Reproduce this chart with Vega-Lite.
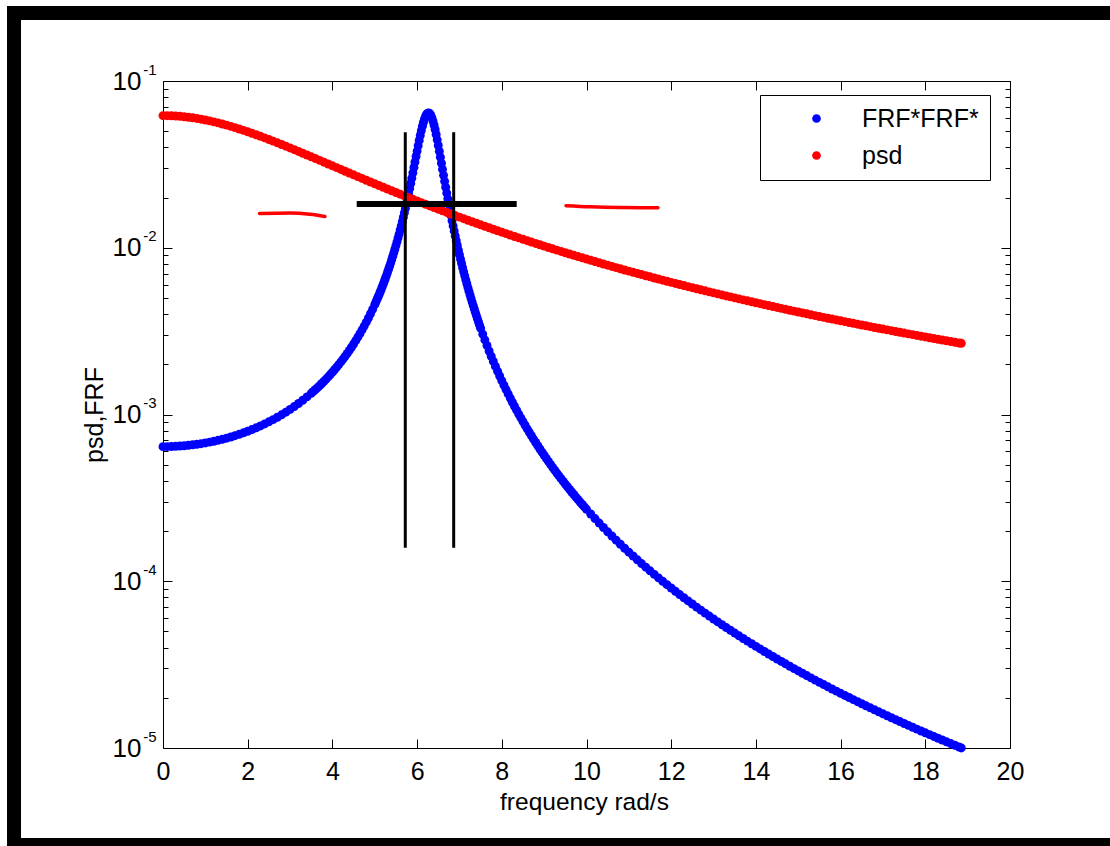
{
"$schema": "https://vega.github.io/schema/vega-lite/v6.json",
"width": 847,
"height": 667,
"autosize": {"type": "none"},
"padding": {"left": 163, "top": 81, "right": 100, "bottom": 98},
"background": "white",
"datasets": {
"frf": [
{"w":0,"v":6.416e-4},{"w":0.1,"v":6.419e-4},{"w":0.2,"v":6.429e-4},{"w":0.3,"v":6.445e-4},{"w":0.4,"v":6.468e-4},{"w":0.5,"v":6.498e-4},{"w":0.6,"v":6.534e-4},{"w":0.7,"v":6.578e-4},{"w":0.8,"v":6.628e-4},{"w":0.9,"v":6.686e-4},
{"w":1,"v":6.752e-4},{"w":1.1,"v":6.826e-4},{"w":1.2,"v":6.909e-4},{"w":1.3,"v":7.0e-4},{"w":1.4,"v":7.1e-4},{"w":1.5,"v":7.211e-4},{"w":1.6,"v":7.332e-4},{"w":1.7,"v":7.464e-4},{"w":1.8,"v":7.607e-4},{"w":1.9,"v":7.764e-4},
{"w":2,"v":7.935e-4},{"w":2.1,"v":8.12e-4},{"w":2.2,"v":8.321e-4},{"w":2.3,"v":8.54e-4},{"w":2.4,"v":8.778e-4},{"w":2.5,"v":9.037e-4},{"w":2.6,"v":9.318e-4},{"w":2.7,"v":9.625e-4},{"w":2.8,"v":9.959e-4},{"w":2.9,"v":1.0325e-3},
{"w":3,"v":1.0724e-3},{"w":3.1,"v":1.1162e-3},{"w":3.2,"v":1.1642e-3},{"w":3.3,"v":1.2171e-3},{"w":3.4,"v":1.2755e-3},{"w":3.5,"v":1.3401e-3},
{"w":3.55,"v":1.375e-3},{"w":3.6,"v":1.4118e-3},{"w":3.65,"v":1.4506e-3},{"w":3.7,"v":1.4915e-3},{"w":3.75,"v":1.5349e-3},{"w":3.8,"v":1.5807e-3},{"w":3.85,"v":1.6293e-3},{"w":3.9,"v":1.6808e-3},{"w":3.95,"v":1.7355e-3},
{"w":4,"v":1.7935e-3},{"w":4.05,"v":1.8554e-3},{"w":4.1,"v":1.9213e-3},{"w":4.15,"v":1.9915e-3},{"w":4.2,"v":2.0666e-3},{"w":4.25,"v":2.147e-3},{"w":4.3,"v":2.2331e-3},{"w":4.35,"v":2.3255e-3},{"w":4.4,"v":2.4249e-3},{"w":4.45,"v":2.5319e-3},
{"w":4.5,"v":2.6474e-3},{"w":4.55,"v":2.7723e-3},{"w":4.6,"v":2.9077e-3},{"w":4.65,"v":3.0547e-3},{"w":4.7,"v":3.2146e-3},{"w":4.75,"v":3.3891e-3},{"w":4.8,"v":3.5802e-3},{"w":4.85,"v":3.7896e-3},{"w":4.9,"v":4.0201e-3},{"w":4.95,"v":4.2744e-3},
{"w":5,"v":4.556e-3},{"w":5.025,"v":4.708e-3},{"w":5.05,"v":4.8868e-3},{"w":5.075,"v":5.0383e-3},{"w":5.1,"v":5.2173e-3},{"w":5.125,"v":5.4069e-3},{"w":5.15,"v":5.6076e-3},{"w":5.175,"v":5.8205e-3},{"w":5.2,"v":6.0464e-3},{"w":5.225,"v":6.2862e-3},
{"w":5.25,"v":6.5415e-3},{"w":5.275,"v":6.8131e-3},{"w":5.3,"v":7.1028e-3},{"w":5.325,"v":7.4122e-3},{"w":5.35,"v":7.743e-3},{"w":5.375,"v":8.0967e-3},{"w":5.4,"v":8.476e-3},{"w":5.425,"v":8.8827e-3},{"w":5.45,"v":9.3204e-3},{"w":5.475,"v":9.7905e-3},
{"w":5.5,"v":1.0298e-2},{"w":5.525,"v":1.0846e-2},{"w":5.55,"v":1.1438e-2},{"w":5.575,"v":1.2078e-2},{"w":5.6,"v":1.2773e-2},{"w":5.625,"v":1.3528e-2},{"w":5.65,"v":1.4348e-2},{"w":5.675,"v":1.5242e-2},{"w":5.7,"v":1.6217e-2},{"w":5.725,"v":1.7281e-2},
{"w":5.75,"v":1.8444e-2},{"w":5.775,"v":1.9718e-2},{"w":5.8,"v":2.1111e-2},{"w":5.825,"v":2.2638e-2},{"w":5.85,"v":2.431e-2},{"w":5.875,"v":2.614e-2},{"w":5.9,"v":2.814e-2},{"w":5.925,"v":3.0321e-2},{"w":5.95,"v":3.2691e-2},{"w":5.975,"v":3.5254e-2},
{"w":6,"v":3.8007e-2},{"w":6.025,"v":4.0935e-2},{"w":6.05,"v":4.4013e-2},{"w":6.075,"v":4.7194e-2},{"w":6.1,"v":5.0414e-2},{"w":6.125,"v":5.3582e-2},{"w":6.15,"v":5.6581e-2},{"w":6.175,"v":5.9277e-2},{"w":6.2,"v":6.1527e-2},{"w":6.225,"v":6.3179e-2},
{"w":6.25,"v":6.4127e-2},{"w":6.275,"v":6.4286e-2},{"w":6.3,"v":6.3638e-2},{"w":6.325,"v":6.2221e-2},{"w":6.35,"v":6.0128e-2},{"w":6.375,"v":5.7488e-2},{"w":6.4,"v":5.4451e-2},{"w":6.425,"v":5.1164e-2},{"w":6.45,"v":4.7764e-2},{"w":6.475,"v":4.4364e-2},
{"w":6.5,"v":4.1048e-2},{"w":6.525,"v":3.7878e-2},{"w":6.55,"v":3.489e-2},{"w":6.575,"v":3.2107e-2},{"w":6.6,"v":2.9536e-2},{"w":6.625,"v":2.7178e-2},{"w":6.65,"v":2.5022e-2},{"w":6.675,"v":2.3058e-2},{"w":6.7,"v":2.1273e-2},{"w":6.725,"v":1.9652e-2},
{"w":6.75,"v":1.8181e-2},{"w":6.775,"v":1.6845e-2},{"w":6.8,"v":1.5631e-2},{"w":6.825,"v":1.4529e-2},{"w":6.85,"v":1.3525e-2},{"w":6.875,"v":1.261e-2},{"w":6.9,"v":1.1776e-2},{"w":6.925,"v":1.1014e-2},{"w":6.95,"v":1.0316e-2},{"w":6.975,"v":9.6773e-3},
{"w":7,"v":9.0905e-3},{"w":7.025,"v":8.5512e-3},{"w":7.05,"v":8.0545e-3},{"w":7.075,"v":7.5966e-3},{"w":7.1,"v":7.1736e-3},{"w":7.125,"v":6.7823e-3},{"w":7.15,"v":6.4198e-3},{"w":7.175,"v":6.0836e-3},{"w":7.2,"v":5.7712e-3},{"w":7.225,"v":5.4806e-3},
{"w":7.25,"v":5.2098e-3},{"w":7.275,"v":4.9573e-3},{"w":7.3,"v":4.7215e-3},{"w":7.325,"v":4.501e-3},{"w":7.35,"v":4.2945e-3},{"w":7.375,"v":4.1009e-3},{"w":7.4,"v":3.9193e-3},{"w":7.425,"v":3.7487e-3},{"w":7.45,"v":3.5883e-3},{"w":7.475,"v":3.4373e-3},
{"w":7.5,"v":3.295e-3},{"w":7.55,"v":3.034e-3},{"w":7.6,"v":2.801e-3},{"w":7.65,"v":2.5921e-3},{"w":7.7,"v":2.4044e-3},{"w":7.75,"v":2.235e-3},{"w":7.8,"v":2.0819e-3},{"w":7.85,"v":1.9429e-3},{"w":7.9,"v":1.8165e-3},{"w":7.95,"v":1.7013e-3},
{"w":8,"v":1.596e-3},{"w":8.05,"v":1.4995e-3},{"w":8.1,"v":1.4109e-3},{"w":8.15,"v":1.3294e-3},{"w":8.2,"v":1.2543e-3},{"w":8.25,"v":1.1849e-3},{"w":8.3,"v":1.1208e-3},{"w":8.35,"v":1.0613e-3},{"w":8.4,"v":1.0061e-3},{"w":8.45,"v":9.548e-4},
{"w":8.5,"v":9.0703e-4},{"w":8.55,"v":8.6248e-4},{"w":8.6,"v":8.209e-4},{"w":8.65,"v":7.8202e-4},{"w":8.7,"v":7.4563e-4},{"w":8.75,"v":7.1152e-4},{"w":8.8,"v":6.7951e-4},{"w":8.85,"v":6.4944e-4},{"w":8.9,"v":6.2117e-4},{"w":8.95,"v":5.9455e-4},
{"w":9,"v":5.6947e-4},{"w":9.05,"v":5.4581e-4},{"w":9.1,"v":5.2347e-4},{"w":9.15,"v":5.0236e-4},{"w":9.2,"v":4.824e-4},{"w":9.25,"v":4.6349e-4},{"w":9.3,"v":4.4558e-4},{"w":9.35,"v":4.286e-4},{"w":9.4,"v":4.1249e-4},{"w":9.45,"v":3.9719e-4},
{"w":9.5,"v":3.8265e-4},{"w":9.55,"v":3.6882e-4},{"w":9.6,"v":3.5565e-4},{"w":9.65,"v":3.4312e-4},{"w":9.7,"v":3.3117e-4},{"w":9.75,"v":3.1978e-4},{"w":9.8,"v":3.0892e-4},{"w":9.85,"v":2.9854e-4},{"w":9.9,"v":2.8863e-4},{"w":9.95,"v":2.7916e-4},
{"w":10,"v":2.701e-4},{"w":10.1,"v":2.5313e-4},{"w":10.2,"v":2.3757e-4},{"w":10.3,"v":2.2326e-4},{"w":10.4,"v":2.1009e-4},{"w":10.5,"v":1.9794e-4},{"w":10.6,"v":1.867e-4},{"w":10.7,"v":1.7631e-4},{"w":10.8,"v":1.6667e-4},{"w":10.9,"v":1.5772e-4},
{"w":11,"v":1.494e-4},{"w":11.1,"v":1.4165e-4},{"w":11.2,"v":1.3443e-4},{"w":11.3,"v":1.2769e-4},{"w":11.4,"v":1.2139e-4},{"w":11.5,"v":1.1549e-4},{"w":11.6,"v":1.0997e-4},{"w":11.7,"v":1.0479e-4},{"w":11.8,"v":9.9927e-5},{"w":11.9,"v":9.5358e-5},
{"w":12,"v":9.1061e-5},{"w":12.1,"v":8.7017e-5},{"w":12.2,"v":8.3204e-5},{"w":12.3,"v":7.9608e-5},{"w":12.4,"v":7.6214e-5},{"w":12.5,"v":7.3007e-5},{"w":12.6,"v":6.9976e-5},{"w":12.7,"v":6.7106e-5},{"w":12.8,"v":6.4389e-5},{"w":12.9,"v":6.1815e-5},
{"w":13,"v":5.9373e-5},{"w":13.1,"v":5.7057e-5},{"w":13.2,"v":5.4856e-5},{"w":13.3,"v":5.2766e-5},{"w":13.4,"v":5.0778e-5},{"w":13.5,"v":4.8886e-5},{"w":13.6,"v":4.7086e-5},{"w":13.7,"v":4.5371e-5},{"w":13.8,"v":4.3736e-5},{"w":13.9,"v":4.2177e-5},
{"w":14,"v":4.0689e-5},{"w":14.1,"v":3.927e-5},{"w":14.2,"v":3.7913e-5},{"w":14.3,"v":3.6617e-5},{"w":14.4,"v":3.5378e-5},{"w":14.5,"v":3.4193e-5},{"w":14.6,"v":3.3058e-5},{"w":14.7,"v":3.1973e-5},{"w":14.8,"v":3.0932e-5},{"w":14.9,"v":2.9935e-5},
{"w":15,"v":2.898e-5},{"w":15.1,"v":2.8063e-5},{"w":15.2,"v":2.7184e-5},{"w":15.3,"v":2.6339e-5},{"w":15.4,"v":2.5529e-5},{"w":15.5,"v":2.475e-5},{"w":15.6,"v":2.4002e-5},{"w":15.7,"v":2.3282e-5},{"w":15.8,"v":2.2591e-5},{"w":15.9,"v":2.1925e-5},
{"w":16,"v":2.1284e-5},{"w":16.1,"v":2.0668e-5},{"w":16.2,"v":2.0074e-5},{"w":16.3,"v":1.9502e-5},{"w":16.4,"v":1.8951e-5},{"w":16.5,"v":1.842e-5},{"w":16.6,"v":1.7907e-5},{"w":16.7,"v":1.7413e-5},{"w":16.8,"v":1.6936e-5},{"w":16.9,"v":1.6476e-5},
{"w":17,"v":1.6032e-5},{"w":17.1,"v":1.5603e-5},{"w":17.2,"v":1.5189e-5},{"w":17.3,"v":1.4789e-5},{"w":17.4,"v":1.4402e-5},{"w":17.5,"v":1.4028e-5},{"w":17.6,"v":1.3666e-5},{"w":17.7,"v":1.3316e-5},{"w":17.8,"v":1.2978e-5},{"w":17.9,"v":1.265e-5},
{"w":18,"v":1.2333e-5},{"w":18.1,"v":1.2027e-5},{"w":18.2,"v":1.1729e-5},{"w":18.3,"v":1.1442e-5},{"w":18.4,"v":1.1163e-5},{"w":18.5,"v":1.0893e-5},{"w":18.6,"v":1.0631e-5},{"w":18.7,"v":1.0377e-5},{"w":18.8,"v":1.0131e-5},{"w":18.85,"v":1.001e-5}
],
"psd": [
{"w":0,"v":0.062},{"w":0.1,"v":0.061961},{"w":0.2,"v":0.061845},{"w":0.3,"v":0.061653},{"w":0.4,"v":0.061386},{"w":0.5,"v":0.061046},{"w":0.6,"v":0.060636},{"w":0.7,"v":0.060158},{"w":0.8,"v":0.059615},{"w":0.9,"v":0.059012},
{"w":1,"v":0.058353},{"w":1.1,"v":0.057641},{"w":1.2,"v":0.056881},{"w":1.3,"v":0.056077},{"w":1.4,"v":0.055234},{"w":1.5,"v":0.054356},{"w":1.6,"v":0.053448},{"w":1.7,"v":0.052515},{"w":1.8,"v":0.051559},{"w":1.9,"v":0.050587},
{"w":2,"v":0.0496},{"w":2.1,"v":0.048604},{"w":2.2,"v":0.047601},{"w":2.3,"v":0.046595},{"w":2.4,"v":0.045588},{"w":2.5,"v":0.044584},{"w":2.6,"v":0.043585},{"w":2.7,"v":0.042593},{"w":2.8,"v":0.041611},{"w":2.9,"v":0.040639},
{"w":3,"v":0.03968},{"w":3.1,"v":0.038735},{"w":3.2,"v":0.037805},{"w":3.3,"v":0.036891},{"w":3.4,"v":0.035994},{"w":3.5,"v":0.035115},{"w":3.6,"v":0.034254},{"w":3.7,"v":0.033412},{"w":3.8,"v":0.032589},{"w":3.9,"v":0.031785},
{"w":4,"v":0.031},{"w":4.1,"v":0.030235},{"w":4.2,"v":0.029489},{"w":4.3,"v":0.028762},{"w":4.4,"v":0.028054},{"w":4.5,"v":0.027366},{"w":4.6,"v":0.026695},{"w":4.7,"v":0.026044},{"w":4.8,"v":0.02541},{"w":4.9,"v":0.024794},
{"w":5,"v":0.024195},{"w":5.1,"v":0.023613},{"w":5.2,"v":0.023048},{"w":5.3,"v":0.022499},{"w":5.4,"v":0.021966},{"w":5.5,"v":0.021449},{"w":5.6,"v":0.020946},{"w":5.7,"v":0.020458},{"w":5.8,"v":0.019984},{"w":5.9,"v":0.019524},
{"w":6,"v":0.019077},{"w":6.1,"v":0.018643},{"w":6.2,"v":0.018222},{"w":6.3,"v":0.017813},{"w":6.4,"v":0.017416},{"w":6.5,"v":0.01703},{"w":6.6,"v":0.016655},{"w":6.7,"v":0.016292},{"w":6.8,"v":0.015938},{"w":6.9,"v":0.015595},
{"w":7,"v":0.015262},{"w":7.1,"v":0.014937},{"w":7.2,"v":0.014623},{"w":7.3,"v":0.014317},{"w":7.4,"v":0.014019},{"w":7.5,"v":0.01373},{"w":7.6,"v":0.013449},{"w":7.7,"v":0.013176},{"w":7.8,"v":0.01291},{"w":7.9,"v":0.012651},
{"w":8,"v":0.0124},{"w":8.1,"v":0.012155},{"w":8.2,"v":0.011917},{"w":8.3,"v":0.011686},{"w":8.4,"v":0.01146},{"w":8.5,"v":0.011241},{"w":8.6,"v":0.011027},{"w":8.7,"v":0.010819},{"w":8.8,"v":0.010616},{"w":8.9,"v":0.010419},
{"w":9,"v":0.010227},{"w":9.1,"v":0.010039},{"w":9.2,"v":0.0098569},{"w":9.3,"v":0.009679},{"w":9.4,"v":0.0095055},{"w":9.5,"v":0.0093365},{"w":9.6,"v":0.0091716},{"w":9.7,"v":0.0090108},{"w":9.8,"v":0.008854},{"w":9.9,"v":0.008701},
{"w":10,"v":0.0085517},{"w":10.1,"v":0.0084061},{"w":10.2,"v":0.0082639},{"w":10.3,"v":0.0081251},{"w":10.4,"v":0.0079897},{"w":10.5,"v":0.0078574},{"w":10.6,"v":0.0077283},{"w":10.7,"v":0.0076021},{"w":10.8,"v":0.0074789},{"w":10.9,"v":0.0073585},
{"w":11,"v":0.0072409},{"w":11.1,"v":0.0071259},{"w":11.2,"v":0.0070136},{"w":11.3,"v":0.0069038},{"w":11.4,"v":0.0067964},{"w":11.5,"v":0.0066914},{"w":11.6,"v":0.0065887},{"w":11.7,"v":0.0064883},{"w":11.8,"v":0.0063901},{"w":11.9,"v":0.006294},
{"w":12,"v":0.0062},{"w":12.1,"v":0.006108},{"w":12.2,"v":0.006018},{"w":12.3,"v":0.0059298},{"w":12.4,"v":0.0058435},{"w":12.5,"v":0.005759},{"w":12.6,"v":0.0056764},{"w":12.7,"v":0.0055953},{"w":12.8,"v":0.005516},{"w":12.9,"v":0.0054383},
{"w":13,"v":0.0053622},{"w":13.1,"v":0.0052876},{"w":13.2,"v":0.0052145},{"w":13.3,"v":0.0051428},{"w":13.4,"v":0.0050726},{"w":13.5,"v":0.0050038},{"w":13.6,"v":0.0049363},{"w":13.7,"v":0.0048702},{"w":13.8,"v":0.0048053},{"w":13.9,"v":0.0047417},
{"w":14,"v":0.0046792},{"w":14.1,"v":0.004618},{"w":14.2,"v":0.004558},{"w":14.3,"v":0.0044991},{"w":14.4,"v":0.0044412},{"w":14.5,"v":0.0043845},{"w":14.6,"v":0.0043288},{"w":14.7,"v":0.0042742},{"w":14.8,"v":0.0042206},{"w":14.9,"v":0.0041679},
{"w":15,"v":0.0041162},{"w":15.1,"v":0.0040654},{"w":15.2,"v":0.0040155},{"w":15.3,"v":0.0039666},{"w":15.4,"v":0.0039185},{"w":15.5,"v":0.0038712},{"w":15.6,"v":0.0038248},{"w":15.7,"v":0.0037792},{"w":15.8,"v":0.0037344},{"w":15.9,"v":0.0036903},
{"w":16,"v":0.0036471},{"w":16.1,"v":0.0036045},{"w":16.2,"v":0.0035627},{"w":16.3,"v":0.0035216},{"w":16.4,"v":0.0034812},{"w":16.5,"v":0.0034414},{"w":16.6,"v":0.0034024},{"w":16.7,"v":0.0033639},{"w":16.8,"v":0.0033262},{"w":16.9,"v":0.003289},
{"w":17,"v":0.0032525},{"w":17.1,"v":0.0032165},{"w":17.2,"v":0.0031811},{"w":17.3,"v":0.0031463},{"w":17.4,"v":0.003112},{"w":17.5,"v":0.0030784},{"w":17.6,"v":0.0030452},{"w":17.7,"v":0.0030125},{"w":17.8,"v":0.0029804},{"w":17.9,"v":0.0029488},
{"w":18,"v":0.0029176},{"w":18.1,"v":0.002887},{"w":18.2,"v":0.0028568},{"w":18.3,"v":0.0028271},{"w":18.4,"v":0.0027978},{"w":18.5,"v":0.002769},{"w":18.6,"v":0.0027406},{"w":18.7,"v":0.0027127},{"w":18.8,"v":0.0026851},{"w":18.85,"v":0.0026716}
],
"vlines": [{"x":5.721,"y":0.04925,"y2":1.589e-4},{"x":6.864,"y":0.04925,"y2":1.589e-4}],
"hline": [{"x":4.574,"x2":8.352,"y":0.0183}],
"strokes": [
{"g":"a","x":2.279,"y":0.016044},{"g":"a","x":2.999,"y":0.016155},{"g":"a","x":3.471,"y":0.015867},{"g":"a","x":3.825,"y":0.015393},
{"g":"b","x":9.516,"y":0.017874},{"g":"b","x":10.083,"y":0.017605},{"g":"b","x":10.791,"y":0.017436},{"g":"b","x":11.688,"y":0.017388}
]
},
"layer": [
{
"data": {"values": [{}]},
"mark": {"type": "rect", "filled": false, "stroke": "black", "strokeWidth": 14},
"encoding": {
"x": {"datum": -3.518, "type": "quantitative", "scale": {"domain": [0, 20], "nice": false, "zero": false},
"axis": {"orient": "bottom", "values": [0,2,4,6,8,10,12,14,16,18,20], "format": "d", "tickSize": -9, "labelPadding": 20, "labelFontSize": 25, "labelFlush": false, "labelOverlap": false,
"title": "frequency rad/s", "titleFontSize": 24.5, "titleFontWeight": "normal", "titleX": 421, "titleY": 54, "titleBaseline": "middle", "titleAlign": "center"}},
"x2": {"datum": 22.83},
"y": {"datum": 0.2557, "type": "quantitative", "scale": {"type": "log", "domain": [0.00001, 0.1], "nice": false},
"axis": {"orient": "left", "values": [0.00001, 0.0001, 0.001, 0.01, 0.1], "tickSize": -9, "labelPadding": 31, "labelExpr": "'10'", "labelFontSize": 26, "labelOverlap": false, "labelFlush": false,
"title": "psd,FRF", "titleFontSize": 25, "titleFontWeight": "normal", "titleX": -69, "titleY": 333.5, "titleAngle": -90, "titleBaseline": "middle", "titleAlign": "center"}},
"y2": {"datum": 0.00000262}
}
},
{
"data": {"name": "frf"},
"mark": {"type": "circle", "size": 80, "opacity": 1},
"encoding": {
"x": {"field": "w", "type": "quantitative", "axis": {"orient": "top", "values": [0,2,4,6,8,10,12,14,16,18,20], "tickSize": -9, "labels": false, "title": null}},
"y": {"field": "v", "type": "quantitative", "scale": {"type": "log"},
"axis": {"orient": "left", "values": [0.00001, 0.0001, 0.001, 0.01, 0.1], "ticks": false, "tickSize": 0, "domain": false, "labelPadding": 7, "labelExpr": "'-' + round(-log(datum.value)/LN10)", "labelFontSize": 15, "labelOffset": -12, "labelOverlap": false, "labelFlush": false, "title": null}},
"color": {"datum": "FRF*FRF*", "type": "nominal", "scale": {"domain": ["FRF*FRF*", "psd"], "range": ["#0000ff", "#ff0000"]},
"legend": {"orient": "none", "legendX": 597, "legendY": 14, "title": null, "strokeColor": "black", "fillColor": "white", "padding": 11, "labelFontSize": 25, "labelFont": "Liberation Sans", "labelColor": "black", "symbolSize": 75, "symbolType": "circle", "symbolOffset": 33, "labelOffset": 33, "rowPadding": 11, "symbolStrokeWidth": 0}}
}
},
{
"data": {"name": "psd"},
"mark": {"type": "circle", "size": 80, "opacity": 1},
"encoding": {
"x": {"field": "w", "type": "quantitative", "axis": null},
"y": {"field": "v", "type": "quantitative", "scale": {"type": "log"},
"axis": {"orient": "left", "values": [0.00002,0.00003,0.00004,0.00005,0.00006,0.00007,0.00008,0.00009,0.0002,0.0003,0.0004,0.0005,0.0006,0.0007,0.0008,0.0009,0.002,0.003,0.004,0.005,0.006,0.007,0.008,0.009,0.02,0.03,0.04,0.05,0.06,0.07,0.08,0.09], "tickSize": -5, "labels": false, "domain": false, "title": null}},
"color": {"datum": "psd", "type": "nominal"}
}
},
{
"data": {"name": "vlines"},
"mark": {"type": "rule", "color": "black", "strokeWidth": 3},
"encoding": {
"x": {"field": "x", "type": "quantitative", "axis": null},
"y": {"field": "y", "type": "quantitative", "scale": {"type": "log"},
"axis": {"orient": "right", "values": [0.00001, 0.0001, 0.001, 0.01, 0.1], "tickSize": -9, "labels": false, "title": null}},
"y2": {"field": "y2"}
}
},
{
"data": {"name": "hline"},
"mark": {"type": "rule", "color": "black", "strokeWidth": 6},
"encoding": {
"x": {"field": "x", "type": "quantitative", "axis": null},
"x2": {"field": "x2"},
"y": {"field": "y", "type": "quantitative", "scale": {"type": "log"},
"axis": {"orient": "right", "values": [0.00002,0.00003,0.00004,0.00005,0.00006,0.00007,0.00008,0.00009,0.0002,0.0003,0.0004,0.0005,0.0006,0.0007,0.0008,0.0009,0.002,0.003,0.004,0.005,0.006,0.007,0.008,0.009,0.02,0.03,0.04,0.05,0.06,0.07,0.08,0.09], "tickSize": -5, "labels": false, "domain": false, "title": null}}
}
},
{
"data": {"name": "strokes"},
"mark": {"type": "line", "color": "#ff0000", "strokeWidth": 3.5, "strokeCap": "round", "interpolate": "monotone"},
"encoding": {
"x": {"field": "x", "type": "quantitative", "axis": null},
"y": {"field": "y", "type": "quantitative", "scale": {"type": "log"}, "axis": null},
"detail": {"field": "g", "type": "nominal"}
}
}
],
"resolve": {"axis": {"x": "independent", "y": "independent"}},
"config": {
"font": "Liberation Sans",
"view": {"stroke": null},
"axis": {"domainColor": "black", "domainWidth": 1, "tickColor": "black", "tickWidth": 1, "labelColor": "black", "titleColor": "black", "grid": false, "labelFont": "Liberation Sans", "titleFont": "Liberation Sans"}
}
}
